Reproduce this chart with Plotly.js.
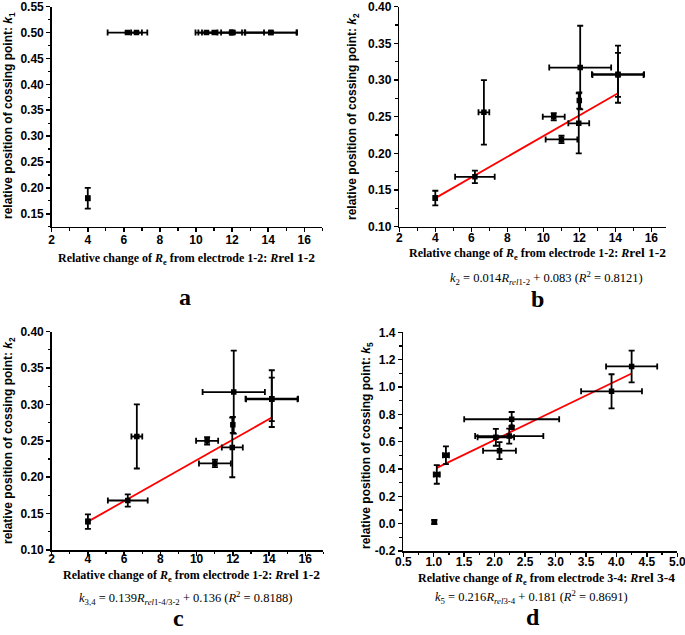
<!DOCTYPE html>
<html>
<head>
<meta charset="utf-8">
<script src="https://cdn.plot.ly/plotly-3.0.1.min.js"></script>
<style>html,body{margin:0;padding:0;background:#fff;}#chart{width:685px;height:635px;}</style>
</head>
<body>
<div id="chart"></div>
<script>
// ---------- Panel a data (k1 vs R_rel 1-2) ----------
const xA     = [4.0, 6.2, 6.7, 10.58, 11.01, 11.97, 12.0, 12.05, 14.15, 14.15];
const xErrA  = [0.1, 1.1, 0.3, 0.61, 0.88, 0.58, 0.0, 1.72, 1.45, 1.42];
const yA     = [0.18, 0.5, 0.5, 0.5, 0.5, 0.5, 0.5, 0.5, 0.5, 0.5];
const yErrA  = [0.02, 0, 0, 0, 0, 0, 0, 0, 0, 0];

// ---------- Panel b data (k2 vs R_rel 1-2) ----------
const xB     = [4.0, 6.2, 6.7, 10.58, 11.01, 11.97, 12.0, 12.05, 14.15, 14.15];
const xErrB  = [0.1, 1.1, 0.3, 0.61, 0.88, 0.58, 0.0, 1.72, 1.45, 1.42];
const yB     = [0.139, 0.168, 0.256, 0.250, 0.219, 0.241, 0.272, 0.317, 0.308, 0.307];
const yErrB  = [0.010, 0.0085, 0.044, 0.005, 0.005, 0.041, 0.011, 0.057, 0.039, 0.030];
const fitXB  = [4.0, 14.15];
const fitYB  = [0.139, 0.282];

// ---------- Panel c data (k3,4 vs R_rel 1-2) ----------
const xC     = [4.0, 6.2, 6.7, 10.58, 11.01, 11.97, 12.0, 12.05, 14.15, 14.15];
const xErrC  = [0.1, 1.1, 0.3, 0.61, 0.88, 0.58, 0.0, 1.72, 1.45, 1.42];
const yC     = [0.139, 0.168, 0.256, 0.250, 0.219, 0.241, 0.272, 0.317, 0.308, 0.307];
const yErrC  = [0.010, 0.0085, 0.044, 0.005, 0.005, 0.041, 0.011, 0.057, 0.039, 0.030];
const fitXC  = [4.0, 14.15];
const fitYC  = [0.139, 0.282];

// ---------- Panel d data (k5 vs R_rel 3-4) ----------
const xD     = [1.01, 1.05, 1.20, 2.08, 2.02, 2.24, 2.28, 2.28, 3.92, 4.25];
const xErrD  = [0.03, 0.05, 0.05, 0.27, 0.30, 0.56, 0.0, 0.78, 0.50, 0.42];
const yD     = [0.012, 0.360, 0.500, 0.534, 0.632, 0.641, 0.705, 0.764, 0.968, 1.150];
const yErrD  = [0.015, 0.068, 0.065, 0.062, 0.062, 0.055, 0.010, 0.053, 0.125, 0.116];
const fitXD  = [1.05, 4.25];
const fitYD  = [0.408, 1.099];

// ---------- Tick labels ----------
const tickXA = [2, 4, 6, 8, 10, 12, 14, 16];
const tickXAtext = ['2', '4', '6', '8', '10', '12', '14', '16'];
const tickYA = [0.15, 0.20, 0.25, 0.30, 0.35, 0.40, 0.45, 0.50, 0.55];
const tickYAtext = ['0.15', '0.20', '0.25', '0.30', '0.35', '0.40', '0.45', '0.50', '0.55'];
const tickYB = [0.10, 0.15, 0.20, 0.25, 0.30, 0.35, 0.40];
const tickYBtext = ['0.10', '0.15', '0.20', '0.25', '0.30', '0.35', '0.40'];
const tickXD = [0.5, 1.0, 1.5, 2.0, 2.5, 3.0, 3.5, 4.0, 4.5, 5.0];
const tickXDtext = ['0.5', '1.0', '1.5', '2.0', '2.5', '3.0', '3.5', '4.0', '4.5', '5.0'];
const tickYD = [-0.2, 0.0, 0.2, 0.4, 0.6, 0.8, 1.0, 1.2, 1.4];
const tickYDtext = ['-0.2', '0.0', '0.2', '0.4', '0.6', '0.8', '1.0', '1.2', '1.4'];

// ---------- Layout helpers ----------
const W = 685, H = 635;
const px = v => v / W;
const py = v => (H - v) / H;
const SANS = 'Liberation Sans, Arial, sans-serif';
const SERIF = 'Liberation Serif, Times New Roman, serif';

function ax(domain, range, tv, tt, minorDtick, anchor, standoff) {
  return {
    domain: domain, range: range, anchor: anchor,
    tickmode: 'array', tickvals: tv, ticktext: tt.map(t => '<b>' + t + '</b>'),
    showline: true, linecolor: 'black', linewidth: 1.5,
    ticks: 'outside', ticklen: 4, tickwidth: 1.5, tickcolor: 'black',
    ticklabelstandoff: standoff || 0,
    ticklabeloverflow: 'allow',
    showgrid: false, zeroline: false, fixedrange: true,
    tickfont: {family: SANS, size: 12, color: 'black', weight: 'bold'},
    minor: {ticks: 'outside', ticklen: 2.5, tickwidth: 1.2, tickcolor: 'black', dtick: minorDtick, tick0: range[0] < 0 ? -0.2 : 0, showgrid: false}
  };
}

function pts(x, xe, y, ye, xa, ya) {
  return {
    type: 'scatter', mode: 'markers', x: x, y: y, xaxis: xa, yaxis: ya,
    marker: {symbol: 'square', size: 5.5, color: 'black'},
    error_x: {type: 'data', array: xe, visible: true, color: 'black', thickness: 1.8, width: 3},
    error_y: {type: 'data', array: ye, visible: true, color: 'black', thickness: 1.8, width: 3},
    showlegend: false, hoverinfo: 'x+y'
  };
}
function fit(x, y, xa, ya) {
  return {type: 'scatter', mode: 'lines', x: x, y: y, xaxis: xa, yaxis: ya,
    line: {color: '#ff0000', width: 1.8}, showlegend: false, hoverinfo: 'skip'};
}

const data = [
  pts(xA, xErrA, yA, yErrA, 'x', 'y'),
  fit(fitXB, fitYB, 'x2', 'y2'),
  pts(xB, xErrB, yB, yErrB, 'x2', 'y2'),
  fit(fitXC, fitYC, 'x3', 'y3'),
  pts(xC, xErrC, yC, yErrC, 'x3', 'y3'),
  fit(fitXD, fitYD, 'x4', 'y4'),
  pts(xD, xErrD, yD, yErrD, 'x4', 'y4')
];

const xTitle12 = '<b>Relative change of <i>R</i><sub>e</sub> from electrode 1-2: <i>R</i></b><b><span style="font-size:13.5px">rel 1-2</span></b>';
const xTitle34 = '<b>Relative change of <i>R</i><sub>e</sub> from electrode 3-4: <i>R</i></b><b><span style="font-size:13.5px">rel 3-4</span></b>';

function yTitle(sub) {
  return '<b>relative position of cossing point: <i>k</i><sub>' + sub + '</sub></b>';
}

function ann(text, x, y, size, family, angle) {
  return {text: text, xref: 'paper', yref: 'paper', x: px(x), y: py(y),
    xanchor: 'center', yanchor: 'middle', showarrow: false, textangle: angle || 0,
    font: {family: family, size: size, color: 'black'}};
}

const annotations = [
  // y titles
  ann(yTitle('1'), 9, 116, 12, SANS, -90),
  ann(yTitle('2'), 353, 116, 12, SANS, -90),
  ann(yTitle('2'), 9, 441, 12, SANS, -90),
  ann(yTitle('5'), 367, 446, 12, SANS, -90),
  // x titles
  ann(xTitle12, 186, 258, 12, SERIF),
  ann(xTitle12, 537, 253, 12, SERIF),
  ann(xTitle12, 191, 575, 12, SERIF),
  ann(xTitle34, 546, 578, 12, SERIF),
  // equations
  ann('<i>k</i><sub>2</sub> = 0.014<i>R</i><sub><i>rel</i>1-2</sub> + 0.083 (<i>R</i><sup>2</sup> = 0.8121)', 546, 278, 12.5, SERIF),
  ann('<i>k</i><sub>3,4</sub> = 0.139<i>R</i><sub><i>rel</i>1-4/3-2</sub> + 0.136 (<i>R</i><sup>2</sup> = 0.8188)', 185, 598, 12.5, SERIF),
  ann('<i>k</i><sub>5</sub> = 0.216<i>R</i><sub><i>rel</i>3-4</sub> + 0.181 (<i>R</i><sup>2</sup> = 0.8691)', 531, 597, 12.5, SERIF),
  // panel letters
  ann('<b>a</b>', 185, 297, 24, SERIF),
  ann('<b>b</b>', 537, 299, 24, SERIF),
  ann('<b>c</b>', 178, 618, 24, SERIF),
  ann('<b>d</b>', 533, 617, 24, SERIF)
];

const layout = {
  width: W, height: H,
  margin: {l: 0, r: 0, t: 0, b: 0},
  paper_bgcolor: 'white', plot_bgcolor: 'white',
  showlegend: false,
  xaxis:  ax([px(51.7), px(322.3)], [2, 17], tickXA, tickXAtext, 1, 'y', -3),
  yaxis:  ax([py(226.7), py(6.7)], [0.125, 0.55], tickYA, tickYAtext, 0.025, 'x', 0),
  xaxis2: ax([px(399.3), px(665.7)], [2, 16.8], tickXA, tickXAtext, 1, 'y2', -5),
  yaxis2: ax([py(226.7), py(6.7)], [0.10, 0.40], tickYB, tickYBtext, 0.025, 'x2', 0),
  xaxis3: ax([px(51.7), px(323.4)], [2, 17], tickXA, tickXAtext, 1, 'y3', -7),
  yaxis3: ax([py(550), py(331.7)], [0.10, 0.40], tickYB, tickYBtext, 0.025, 'x3', 0),
  xaxis4: ax([px(403.3), px(677.3)], [0.5, 5.0], tickXD, tickXDtext, 0.25, 'y4', -5),
  yaxis4: ax([py(551), py(332.3)], [-0.2, 1.4], tickYD, tickYDtext, 0.1, 'x4', 0),
  annotations: annotations
};

Plotly.newPlot('chart', data, layout, {staticPlot: true, displayModeBar: false});
</script>
</body>
</html>
